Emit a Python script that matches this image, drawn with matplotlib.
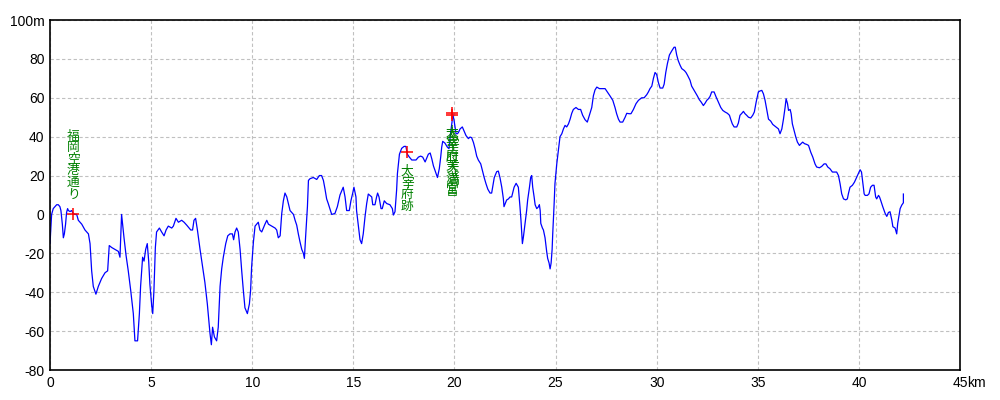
import matplotlib
matplotlib.use("Agg")
import matplotlib.pyplot as plt

# distance (km) and elevation (m)
dist_km = [
    0.00, 0.03, 0.08, 0.16, 0.33, 0.41, 0.49, 0.54, 0.61, 0.66, 0.71, 0.77, 0.82, 0.87, 0.91, 0.99,
    1.07, 1.15, 1.24, 1.32, 1.40, 1.57, 1.73, 1.90, 1.98, 2.06, 2.14, 2.27, 2.39, 2.55, 2.72, 2.85,
    2.93, 3.05, 3.21, 3.38, 3.46, 3.54, 3.59, 3.66, 3.76, 3.87, 3.99, 4.12, 4.20, 4.33, 4.42, 4.48,
    4.58, 4.65, 4.73, 4.81, 4.88, 4.94, 5.03, 5.08, 5.14, 5.21, 5.27, 5.41, 5.52, 5.64, 5.74, 5.85,
    6.02, 6.10, 6.23, 6.35, 6.51, 6.63, 6.76, 6.96, 7.05, 7.12, 7.20, 7.29, 7.42, 7.55, 7.66, 7.78,
    7.91, 7.98, 8.04, 8.13, 8.24, 8.32, 8.41, 8.49, 8.57, 8.69, 8.79, 8.90, 9.02, 9.08, 9.15, 9.23,
    9.31, 9.40, 9.48, 9.56, 9.64, 9.76, 9.86, 9.92,
    9.97, 10.06, 10.14, 10.22, 10.30, 10.38, 10.47, 10.55, 10.63, 10.72, 10.80, 10.96, 11.13, 11.21,
    11.29, 11.38, 11.46, 11.54, 11.62, 11.71, 11.87, 12.04, 12.12, 12.20, 12.28, 12.36, 12.45, 12.53,
    12.58, 12.64, 12.73, 12.78, 12.86, 13.02, 13.19, 13.32, 13.43, 13.52, 13.60, 13.68, 13.76, 13.93,
    14.09, 14.21, 14.34, 14.50, 14.59, 14.67, 14.80, 14.88, 14.97, 15.03, 15.13, 15.16, 15.25, 15.33,
    15.41, 15.49, 15.58, 15.66, 15.74, 15.91, 15.96, 16.07, 16.15, 16.20, 16.27, 16.37, 16.43, 16.53,
    16.65, 16.81, 16.93, 16.98, 17.06, 17.14, 17.18, 17.28, 17.39, 17.51, 17.60, 17.67, 17.77, 17.89,
    17.97, 18.10, 18.22, 18.33, 18.43, 18.55, 18.63, 18.71, 18.80, 18.88, 18.96, 19.04, 19.16, 19.25,
    19.32, 19.37, 19.42, 19.53, 19.65, 19.73, 19.81, 19.88, 19.91, 19.98, 20.08, 20.14, 20.19, 20.28,
    20.39, 20.47, 20.57, 20.69, 20.77, 20.85, 20.94, 21.02, 21.10, 21.18, 21.30, 21.38, 21.47, 21.56,
    21.65, 21.76, 21.84, 21.89, 21.97, 22.09, 22.17, 22.25, 22.34, 22.42, 22.45,
    22.58, 22.67, 22.75, 22.83, 22.95, 23.05, 23.16, 23.24, 23.29, 23.36, 23.41, 23.49, 23.57, 23.62,
    23.71, 23.77, 23.82, 23.87, 23.94, 23.99, 24.07, 24.16, 24.20, 24.24, 24.27, 24.35, 24.40, 24.48,
    24.56, 24.61, 24.68, 24.73, 24.78, 24.83, 24.86, 24.93, 24.97, 25.06, 25.14, 25.22, 25.31, 25.39,
    25.47, 25.55, 25.64, 25.72, 25.80, 25.88, 26.01, 26.13, 26.24, 26.34, 26.46, 26.57, 26.67, 26.79,
    26.87, 26.95, 27.04, 27.17, 27.28, 27.45, 27.56, 27.69, 27.83, 27.94, 28.02, 28.11, 28.19, 28.32,
    28.44, 28.52, 28.65, 28.73, 28.85, 28.98, 29.10, 29.26, 29.38, 29.51, 29.59, 29.67, 29.76, 29.84,
    29.92, 30.00, 30.08, 30.17, 30.30, 30.37, 30.45, 30.53, 30.63, 30.74, 30.86, 30.92, 30.99, 31.07,
    31.16, 31.24, 31.37, 31.45, 31.53, 31.65, 31.73, 31.90, 32.01, 32.11, 32.20, 32.31, 32.40, 32.48,
    32.56, 32.64, 32.72, 32.84, 32.94, 33.05, 33.17, 33.27, 33.38, 33.50, 33.60, 33.66, 33.74, 33.83,
    33.96, 34.04, 34.12, 34.21, 34.29, 34.37, 34.45, 34.54, 34.65, 34.75, 34.83,
    34.92, 35.03, 35.11, 35.20, 35.28, 35.36, 35.45, 35.53, 35.64, 35.74, 35.86, 36.02, 36.10, 36.19,
    36.27, 36.35, 36.40, 36.47, 36.52, 36.60, 36.65, 36.71, 36.80, 36.88, 36.96, 37.06, 37.14, 37.22,
    37.31, 37.42, 37.51, 37.62, 37.72, 37.83, 37.91, 38.05, 38.16, 38.28, 38.37, 38.46, 38.57, 38.69,
    38.82, 38.90, 38.99, 39.07, 39.15, 39.24, 39.35, 39.43, 39.48, 39.56, 39.68, 39.78, 39.86, 39.98,
    40.06, 40.13, 40.19, 40.26, 40.31, 40.42, 40.50, 40.58, 40.67, 40.75, 40.83, 40.88, 40.97, 41.02,
    41.08, 41.18, 41.30, 41.38, 41.46, 41.54, 41.63, 41.68, 41.79, 41.87, 41.92, 41.99, 42.04, 42.12,
    42.20, 42.20,
]
elev_m = [
    -15, -9, 0, 3, 5, 5, 4, 2, -5, -12, -10, -5, 1, 3, 2, 1.5,
    2, 0.5, 0, 0, -3, -5, -8, -10, -15, -29, -37, -41, -37, -33, -30, -29,
    -16, -17, -18, -19, -22, 0, -5, -12, -21, -29, -39, -51, -65, -65, -51, -37,
    -22, -24, -18, -15, -24, -36, -47, -51, -39, -17, -9, -7, -9, -11, -8, -6,
    -7, -6, -2, -4, -3, -4, -5.5, -8, -8, -3, -2, -8, -18, -27, -35, -46,
    -61, -67, -58, -63, -65, -58, -37, -28, -22, -15, -11, -10, -10, -13, -9, -7,
    -9, -18, -29, -39, -48, -51, -46, -39,
    -27, -14, -6, -5, -4, -8, -9, -7, -5, -3, -5, -6, -7, -8,
    -12, -11, 0.5, 7, 11, 9, 2, 0, -3, -5.5, -10, -14, -18, -20,
    -22.6, -11.5, 4, 17.5, 18.4, 19, 18, 20, 20, 17.5, 13, 8, 5.6, 0,
    0.5, 4, 10, 14, 9, 2, 2, 7, 11, 14, 9, 2, -6, -13,
    -15, -10, -1, 5.6, 10.5, 9, 5, 5, 9, 11, 9, 3, 3, 7,
    5.6, 5, 3, -0.3, 1.4, 12.5, 21, 31, 34, 35, 35, 31, 29.5, 28,
    28, 28, 29.5, 30, 29.5, 27, 29, 31, 31.6, 28.6, 25, 22.6, 19, 23.5,
    29.5, 34.6, 37.6, 36.7, 34.6, 33.8, 42, 47.5, 52, 48.4, 41.5, 41.5, 42, 44,
    45, 43, 40.6, 39, 39.8, 39.5, 37, 33.8, 30, 28, 26, 22.6, 19, 15.8,
    13, 11, 11, 14, 19, 22, 22.3, 19, 14, 8, 4,
    7.4, 8, 9, 9, 14, 16, 14, 4, -3, -15, -11.6, -4.6, 2, 7.4,
    14, 19, 20, 14, 9, 5, 3, 4, 5, 2, -4.6, -7, -8, -12,
    -19, -22.6, -25, -28, -25, -18, -10, 5.6, 15.8, 26, 33, 40, 41.5, 44,
    45.8, 45, 46.6, 49, 52, 54, 55, 54, 54, 51, 48.7, 47.5, 51, 55,
    61, 64, 65.5, 64.7, 64.7, 64.7, 63, 61, 58.7, 55, 51.8, 49, 47.5, 47.5,
    50, 52, 51.8, 51.8, 54, 57, 58.7, 60, 60, 61.6, 63, 64.7, 66, 70,
    73, 72, 68, 65, 65, 67, 73, 77.5, 82, 84, 86, 86, 82, 79,
    76.7, 75, 74, 73, 71.5, 69, 66, 63, 61, 59, 57.8, 56, 57.3, 58.7,
    59.5, 60.7, 63, 63, 60.4, 57.8, 55, 53.5, 52.7, 52, 51, 49, 46.6, 45,
    45, 47, 51, 52, 53, 51.8, 51, 50, 49.6, 51, 52.7,
    57.8, 63, 63.5, 63.8, 62, 58.7, 53.5, 49, 48, 46.3, 45.3, 44, 41.5, 44,
    49, 55, 59.5, 57, 53.5, 54, 51.8, 46.6, 43, 39.8, 37.2, 35.5, 36.4, 37.2,
    36.4, 36, 35.5, 32, 29.5, 26, 24.4, 24, 24.7, 26, 26, 24.4, 23.5, 21.8,
    21.8, 21.8, 20, 15.8, 10.6, 8, 7.5, 8, 10.6, 14, 15, 16.6, 18.4, 21,
    23, 21.8, 16.6, 10.6, 9.8, 9.8, 10.6, 14, 15, 15, 9, 8, 9.8, 9,
    7.2, 4, 0.5, -1, 1, 1.4, -3, -6.3, -7, -10, -4.6, -0.3, 3, 4.8,
    6, 10.5,
]

# waypoints: name, km, m, label above (True) or below
wp_names = ["福岡空港通り", "太宰府跡", "太宰府天満宮", "太宰府天満宮"]
wp_km = [1.15, 17.67, 19.87, 19.90]
wp_m = [0.0, 31.9, 52.2, 51.2]
wp_above = [True, False, False, False]

x_ticks = [0, 5, 10, 15, 20, 25, 30, 35, 40, 45]
x_labels = ["0", "5", "10", "15", "20", "25", "30", "35", "40", "45"]
y_ticks = [-80, -60, -40, -20, 0, 20, 40, 60, 80, 100]
y_labels = ["-80", "-60", "-40", "-20", "0", "20", "40", "60", "80", "100m"]

fig = plt.figure(figsize=(10, 4), dpi=100)
ax = fig.add_axes([0.05, 0.075, 0.91, 0.875])

ax.plot(dist_km, elev_m, color="#0000ff", linewidth=0.9)

for name, x, y, above in zip(wp_names, wp_km, wp_m, wp_above):
    ax.plot(x, y, marker="+", color="red", markersize=9, markeredgewidth=1.1)
    off = 10 if above else -9
    ax.annotate("\n".join(name), xy=(x, y), xytext=(0, off), textcoords="offset points",
                ha="center", va="bottom" if above else "top", color="#008000",
                fontsize=9.2, family=["Noto Sans CJK JP", "DejaVu Sans"], linespacing=0.86)

ax.set_xlim(0, 45)
ax.set_ylim(-80, 100)
ax.set_xticks(x_ticks)
ax.set_xticklabels(x_labels)
ax.set_yticks(y_ticks)
ax.set_yticklabels(y_labels)
ax.tick_params(length=0, labelsize=10, pad=4)
for lab in ax.get_xticklabels() + ax.get_yticklabels():
    lab.set_family("Liberation Sans")
ax.annotate("km", xy=(45, -80), xytext=(5, -4), textcoords="offset points",
            ha="left", va="top", fontsize=10, family="Liberation Sans", annotation_clip=False)

ax.grid(True, color="#c0c0c0", linestyle=(0, (3, 2.2)), linewidth=0.8)
for s in ax.spines.values():
    s.set_color("black")
    s.set_linewidth(1.2)

fig.savefig("out.png", dpi=100)
